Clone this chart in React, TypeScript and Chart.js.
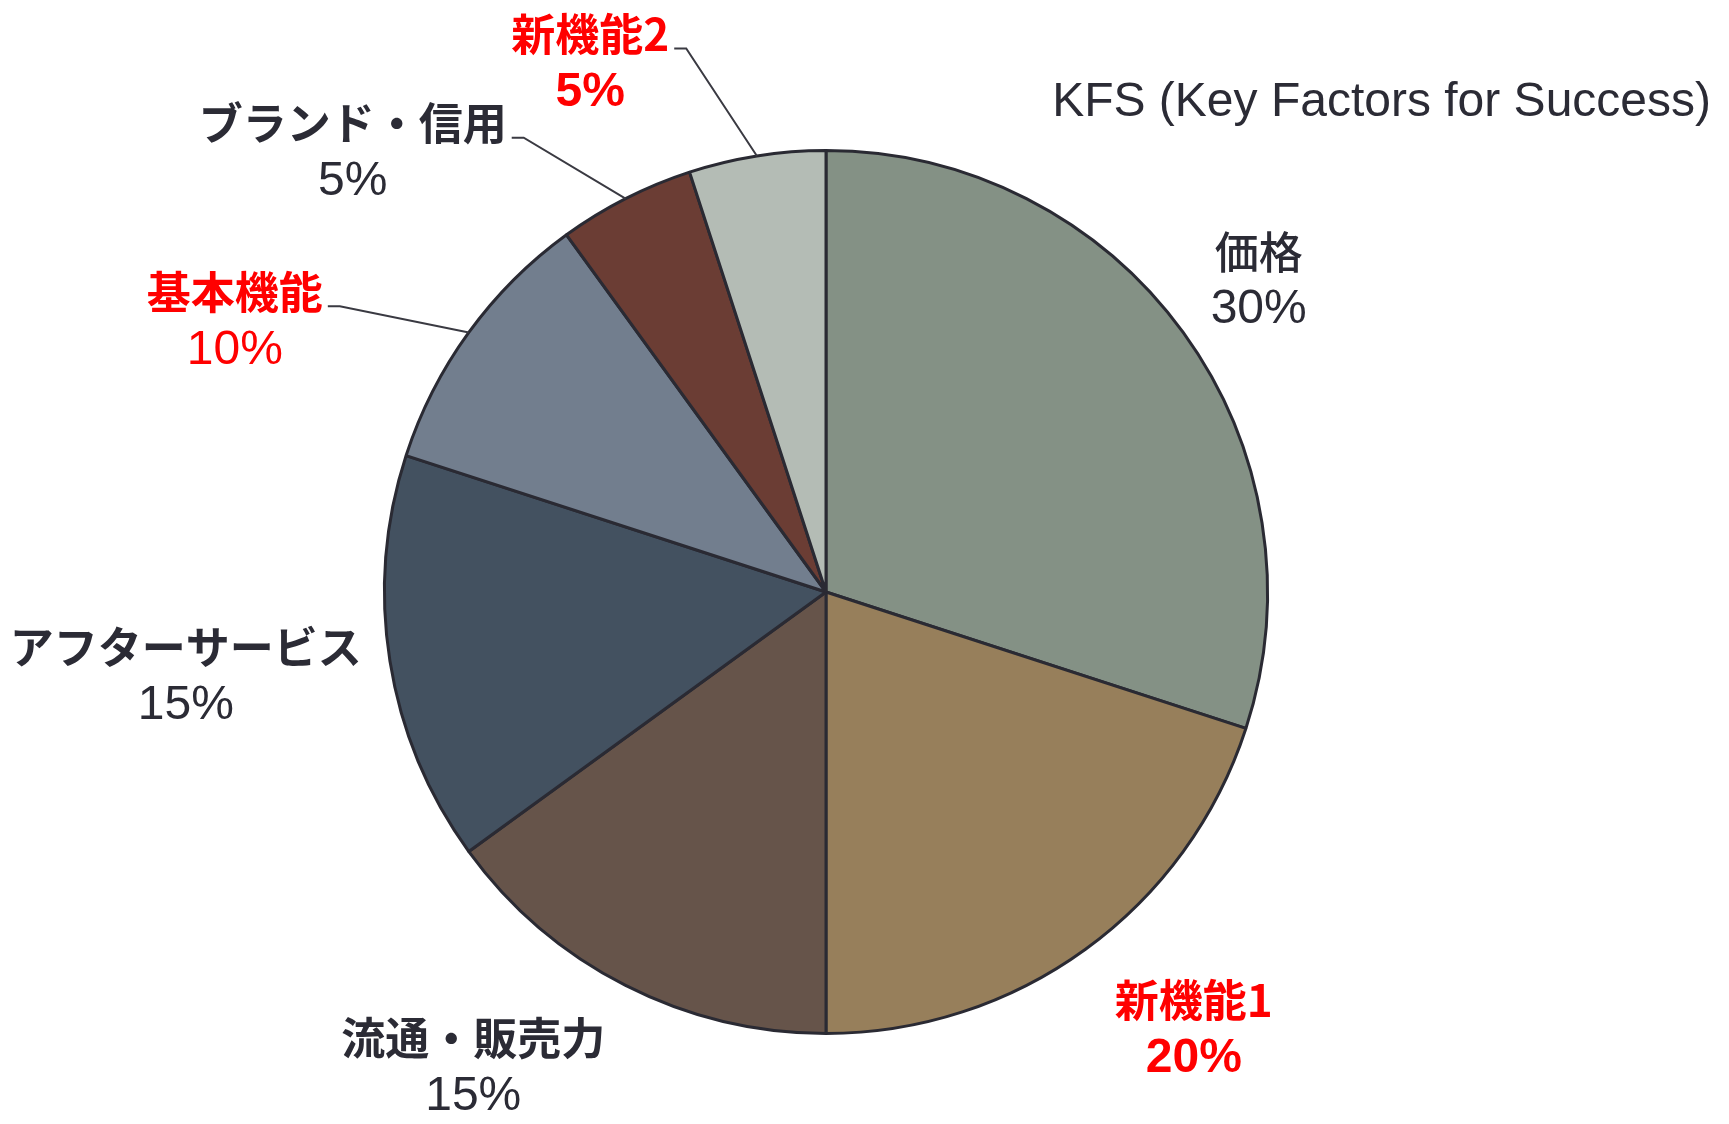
import React, { useEffect, useRef } from "react";
import { Chart, registerables } from "chart.js";

Chart.register(...registerables);

const categories = ["価格", "新機能1", "流通・販売力", "アフターサービス", "基本機能", "ブランド・信用", "新機能2"];
const shares = [30, 20, 15, 15, 10, 5, 5];
const sliceColors = ["#849185", "#977f5b", "#66544a", "#435160", "#727e8e", "#6b3d34", "#b4bcb5"];
const labelColors = ["#2b2b35", "#ff0000", "#2b2b35", "#2b2b35", "#ff0000", "#2b2b35", "#ff0000"];
const hasLeader = [false, false, false, false, true, true, true];
const chartTitle = "KFS (Key Factors for Success)";

// label block centre, relative to pie centre, in units of radius
const labelOffsets: [number, number][] = [
  [0.98, -0.704],
  [0.833, 0.991],
  [-0.799, 1.077],
  [-1.45, 0.192],
  [-1.339, -0.613],
  [-1.072, -0.995],
  [-0.534, -1.197],
];
const nameWeights = ["500", "bold", "bold", "bold", "bold", "bold", "bold"];
const pctWeights = ["normal", "bold", "normal", "normal", "normal", "normal", "bold"];

const labelPlugin = {
  id: "pieLabels",
  afterDraw(chart: any) {
    const ctx = chart.ctx;
    const meta = chart.getDatasetMeta(0);
    ctx.save();
    // title
    ctx.font = '48px "Liberation Sans", Arial, sans-serif';
    ctx.fillStyle = "#2b2b35";
    ctx.textAlign = "right";
    ctx.textBaseline = "middle";
    ctx.fillText(chartTitle, 1711, 103);

    meta.data.forEach((arc: any, i: number) => {
      const { x, y, outerRadius, startAngle, endAngle } = arc.getProps(
        ["x", "y", "outerRadius", "startAngle", "endAngle"],
        true
      );
      const [ox, oy] = labelOffsets[i];
      const cx = x + ox * outerRadius;
      const cy = y + oy * outerRadius;
      const gap = 29;
      const name = categories[i];
      const pct = shares[i] + "%";
      ctx.fillStyle = labelColors[i];
      ctx.textAlign = "center";
      ctx.textBaseline = "middle";
      ctx.font = `${nameWeights[i]} 44px "Noto Sans CJK JP", sans-serif`;
      const nameW = ctx.measureText(name).width;
      ctx.fillText(name, cx, cy - gap);
      ctx.font = `${pctWeights[i]} 48px "Liberation Sans", Arial, sans-serif`;
      ctx.fillText(pct, cx, cy + gap);

      if (hasLeader[i]) {
        const mid = (startAngle + endAngle) / 2;
        const ex = x + Math.cos(mid) * outerRadius;
        const ey = y + Math.sin(mid) * outerRadius;
        const sx = cx + nameW / 2 + 5;
        const sy = cy - gap + 14;
        ctx.strokeStyle = "#3a3a42";
        ctx.lineWidth = 2;
        ctx.beginPath();
        ctx.moveTo(sx, sy);
        ctx.lineTo(sx + 12, sy);
        ctx.lineTo(ex, ey);
        ctx.stroke();
      }
    });
    ctx.restore();
  },
};

export default function App() {
  const ref = useRef<HTMLCanvasElement | null>(null);
  useEffect(() => {
    if (!ref.current) return;
    const chart = new Chart(ref.current, {
      type: "pie",
      data: {
        labels: categories,
        datasets: [
          {
            data: shares,
            backgroundColor: sliceColors,
            borderColor: "#2a2a33",
            borderWidth: 3,
          },
        ],
      },
      options: {
        responsive: false,
        animation: false,
        layout: { padding: { left: 383, right: 460, top: 149, bottom: 89 } },
        plugins: {
          legend: { display: false },
          tooltip: { enabled: false },
          title: { display: false },
        },
      },
      plugins: [labelPlugin],
    });
    return () => chart.destroy();
  }, []);
  return (
    <div style={{ position: "fixed", left: 0, top: 0, width: 1729, height: 1124, background: "#fff" }}>
      <canvas ref={ref} width={1729} height={1124} />
    </div>
  );
}
